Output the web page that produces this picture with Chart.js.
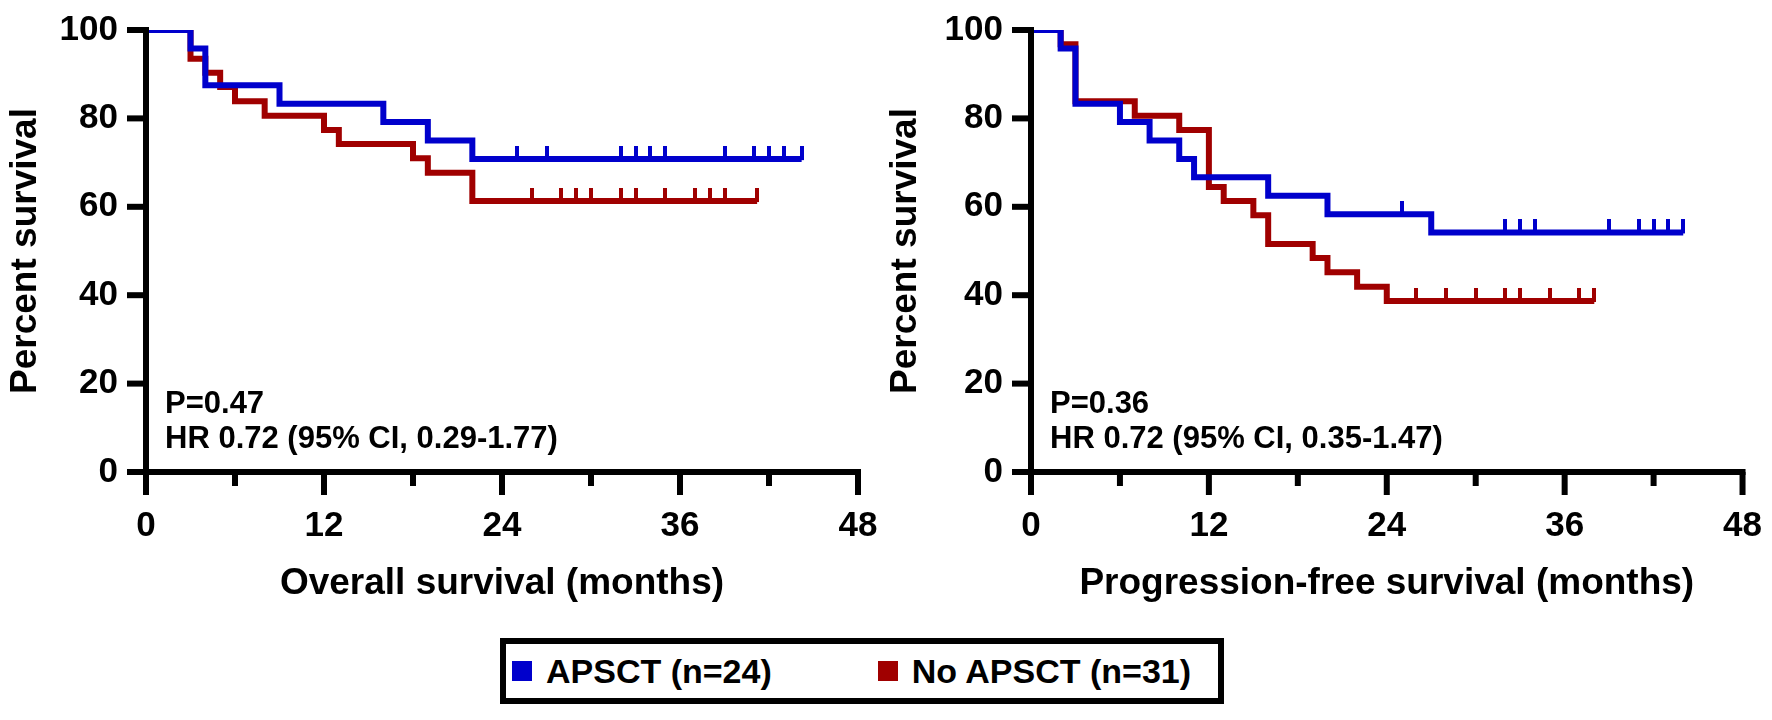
<!DOCTYPE html>
<html>
<head>
<meta charset="utf-8">
<script src="https://cdn.jsdelivr.net/npm/chart.js@4.4.1/dist/chart.umd.min.js"></script>
<style>
  html, body { margin: 0; padding: 0; background: #fff; }
  #page { position: relative; width: 1772px; height: 720px; overflow: hidden; }
  #osBox { position: absolute; left: 0; top: 0; }
  #pfsBox { position: absolute; left: 880px; top: 0; }
  #legend {
    position: absolute; left: 500px; top: 638px; width: 724px; height: 66px;
    box-sizing: border-box; border: 6px solid #000; background: #fff;
    font: bold 34px "Liberation Sans", Arial, sans-serif; color: #000;
    display: flex; align-items: center;
  }
  .sw { display: inline-block; width: 20px; height: 20px; margin-left: 6px; margin-right: 14px; }
  .item { display: flex; align-items: center; }
</style>
</head>
<body>
<div id="page">
  <div id="osBox"><canvas id="osChart" width="900" height="640"></canvas></div>
  <div id="pfsBox"><canvas id="pfsChart" width="892" height="640"></canvas></div>
  <div id="legend">
    <div class="item"><span class="sw" style="background:#0000CC"></span>APSCT (n=24)</div>
    <div class="item" style="margin-left:100px"><span class="sw" style="background:#A00000"></span>No APSCT (n=31)</div>
  </div>
</div>
<script>
// Overall survival, APSCT (n=24)
const osApsctTimes = [0, 3, 4, 9, 16, 19, 22, 44.2];
const osApsctSurv = [100, 95.8, 87.5, 83.3, 79.2, 75.0, 70.8, 70.8];
const osApsctCensor = [25, 27, 32, 33, 34, 35, 39, 41, 42, 43, 44.2];

// Overall survival, No APSCT (n=31)
const osNoTimes = [0, 3, 4, 5, 6, 8, 12, 13, 18, 19, 22, 41.2];
const osNoSurv = [100, 93.5, 90.3, 87.1, 83.9, 80.6, 77.4, 74.2, 71.0, 67.7, 61.3, 61.3];
const osNoCensor = [26, 28, 29, 30, 32, 33, 35, 37, 38, 39, 41.2];

// Progression-free survival, APSCT
const pfsApsctTimes = [0, 2, 3, 6, 8, 10, 11, 16, 20, 27, 44];
const pfsApsctSurv = [100, 95.8, 83.3, 79.2, 75.0, 70.8, 66.7, 62.5, 58.3, 54.2, 54.2];
const pfsApsctCensor = [25, 32, 33, 34, 39, 41, 42, 43, 44];

// Progression-free survival, No APSCT
const pfsNoTimes = [0, 2, 3, 7, 10, 12, 13, 15, 16, 19, 20, 22, 24, 38];
const pfsNoSurv = [100, 96.8, 83.9, 80.6, 77.4, 64.5, 61.3, 58.1, 51.6, 48.4, 45.2, 41.9, 38.7, 38.7];
const pfsNoCensor = [26, 28, 30, 32, 33, 35, 37, 38];

const xTicks = [0, 12, 24, 36, 48];
const yTicks = [0, 20, 40, 60, 80, 100];

const BLUE = '#0000CC';
const RED = '#A00000';
Chart.defaults.font.family = "'Liberation Sans', Arial, sans-serif";
Chart.defaults.color = '#000';

function survAt(times, surv, t) {
  let s = surv[0];
  for (let i = 0; i < times.length; i++) if (times[i] <= t) s = surv[i];
  return s;
}

function censorMark(color) {
  const c = document.createElement('canvas');
  c.width = 4; c.height = 26;
  const g = c.getContext('2d');
  g.fillStyle = color;
  g.fillRect(0, 0, 4, 14);
  return c;
}

function curve(times, surv, color) {
  return {
    data: times.map((t, i) => ({ x: t, y: surv[i] })),
    borderColor: color, borderWidth: 6, stepped: true,
    pointRadius: 0, fill: false, clip: 0,
    borderCapStyle: 'butt', borderJoinStyle: 'miter'
  };
}

function censors(times, surv, cens, color) {
  return {
    data: cens.map(t => ({ x: t, y: survAt(times, surv, t) })),
    showLine: false, pointStyle: censorMark(color), pointRadius: 6
  };
}

// axis lines with long major and short minor ticks
const axesPlugin = {
  id: 'axesDraw',
  afterDatasetsDraw(chart) {
    const { ctx, chartArea: a, scales: { x, y } } = chart;
    ctx.save();
    ctx.fillStyle = '#000';
    const w = 6;
    ctx.fillRect(a.left - w / 2, a.top - w / 2, w, a.bottom - a.top + w);
    ctx.fillRect(a.left - w / 2, a.bottom - w / 2, a.right - a.left + w, w);
    x.ticks.forEach(t => {
      const px = x.getPixelForValue(t.value);
      const len = xTicks.includes(t.value) ? 23 : 14;
      ctx.fillRect(px - w / 2, a.bottom, w, len);
    });
    y.ticks.forEach(t => {
      const py = y.getPixelForValue(t.value);
      const len = yTicks.includes(t.value) ? 19 : 13;
      ctx.fillRect(a.left - len, py - w / 2, len, w);
    });
    const note = chart.options.plugins.axesDraw.note;
    ctx.font = "bold 31px 'Liberation Sans', Arial, sans-serif";
    ctx.textBaseline = 'middle';
    ctx.fillText(note[0], a.left + 19, a.bottom - 68);
    ctx.fillText(note[1], a.left + 19, a.bottom - 33);
    ctx.restore();
  }
};

function makeChart(id, datasets, xTitle, note, yWidth, padRight) {
  return new Chart(document.getElementById(id), {
    type: 'line',
    data: { datasets },
    options: {
      responsive: false, animation: false, events: [],
      layout: { padding: { left: 4, top: 27, right: padRight, bottom: 34 } },
      plugins: { legend: { display: false }, tooltip: { enabled: false }, axesDraw: { note } },
      scales: {
        x: {
          type: 'linear', min: 0, max: 48,
          afterFit: s => { s.height = 134; },
          grid: { display: false, drawTicks: true, tickLength: 23 },
          border: { display: false },
          ticks: { stepSize: 6, padding: 10, font: { size: 35, weight: 'bold' },
                   callback: v => xTicks.includes(v) ? v : '' },
          title: { display: true, text: xTitle, padding: 0,
                   font: { size: 37, weight: 'bold' } }
        },
        y: {
          min: 0, max: 100,
          afterFit: s => { s.width = yWidth; },
          grid: { display: false, drawTicks: true, tickLength: 19 },
          border: { display: false },
          ticks: { stepSize: 10, padding: 9, font: { size: 35, weight: 'bold' },
                   callback: v => yTicks.includes(v) ? v : '' },
          title: { display: true, text: 'Percent survival', padding: 0,
                   font: { size: 37, weight: 'bold' } }
        }
      }
    },
    plugins: [axesPlugin]
  });
}

makeChart('osChart', [
  curve(osApsctTimes, osApsctSurv, BLUE),
  censors(osApsctTimes, osApsctSurv, osApsctCensor, BLUE),
  curve(osNoTimes, osNoSurv, RED),
  censors(osNoTimes, osNoSurv, osNoCensor, RED)
], 'Overall survival (months)', ['P=0.47', 'HR 0.72 (95% CI, 0.29-1.77)'], 142, 42);

makeChart('pfsChart', [
  curve(pfsApsctTimes, pfsApsctSurv, BLUE),
  censors(pfsApsctTimes, pfsApsctSurv, pfsApsctCensor, BLUE),
  curve(pfsNoTimes, pfsNoSurv, RED),
  censors(pfsNoTimes, pfsNoSurv, pfsNoCensor, RED)
], 'Progression-free survival (months)', ['P=0.36', 'HR 0.72 (95% CI, 0.35-1.47)'], 147, 25);
</script>
</body>
</html>
